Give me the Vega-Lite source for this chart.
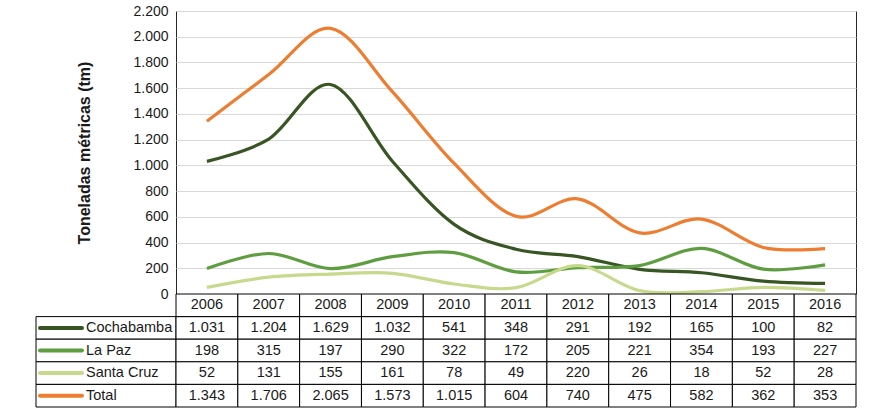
{
  "$schema": "https://vega.github.io/schema/vega-lite/v6.json",
  "padding": {"left": 32, "top": 3, "right": 5, "bottom": 3},
  "background": "white",
  "config": {
    "locale": {"number": {"decimal": ",", "thousands": ".", "grouping": [3], "currency": ["", " Bs"]}},
    "font": "Liberation Sans",
    "view": {"stroke": null}
  },
  "datasets": {
    "prod": [
      {"year": "2006", "series": "Cochabamba", "value": 1031},
      {"year": "2007", "series": "Cochabamba", "value": 1204},
      {"year": "2008", "series": "Cochabamba", "value": 1629},
      {"year": "2009", "series": "Cochabamba", "value": 1032},
      {"year": "2010", "series": "Cochabamba", "value": 541},
      {"year": "2011", "series": "Cochabamba", "value": 348},
      {"year": "2012", "series": "Cochabamba", "value": 291},
      {"year": "2013", "series": "Cochabamba", "value": 192},
      {"year": "2014", "series": "Cochabamba", "value": 165},
      {"year": "2015", "series": "Cochabamba", "value": 100},
      {"year": "2016", "series": "Cochabamba", "value": 82},
      {"year": "2006", "series": "La Paz", "value": 198},
      {"year": "2007", "series": "La Paz", "value": 315},
      {"year": "2008", "series": "La Paz", "value": 197},
      {"year": "2009", "series": "La Paz", "value": 290},
      {"year": "2010", "series": "La Paz", "value": 322},
      {"year": "2011", "series": "La Paz", "value": 172},
      {"year": "2012", "series": "La Paz", "value": 205},
      {"year": "2013", "series": "La Paz", "value": 221},
      {"year": "2014", "series": "La Paz", "value": 354},
      {"year": "2015", "series": "La Paz", "value": 193},
      {"year": "2016", "series": "La Paz", "value": 227},
      {"year": "2006", "series": "Santa Cruz", "value": 52},
      {"year": "2007", "series": "Santa Cruz", "value": 131},
      {"year": "2008", "series": "Santa Cruz", "value": 155},
      {"year": "2009", "series": "Santa Cruz", "value": 161},
      {"year": "2010", "series": "Santa Cruz", "value": 78},
      {"year": "2011", "series": "Santa Cruz", "value": 49},
      {"year": "2012", "series": "Santa Cruz", "value": 220},
      {"year": "2013", "series": "Santa Cruz", "value": 26},
      {"year": "2014", "series": "Santa Cruz", "value": 18},
      {"year": "2015", "series": "Santa Cruz", "value": 52},
      {"year": "2016", "series": "Santa Cruz", "value": 28},
      {"year": "2006", "series": "Total", "value": 1343},
      {"year": "2007", "series": "Total", "value": 1706},
      {"year": "2008", "series": "Total", "value": 2065},
      {"year": "2009", "series": "Total", "value": 1573},
      {"year": "2010", "series": "Total", "value": 1015},
      {"year": "2011", "series": "Total", "value": 604},
      {"year": "2012", "series": "Total", "value": 740},
      {"year": "2013", "series": "Total", "value": 475},
      {"year": "2014", "series": "Total", "value": 582},
      {"year": "2015", "series": "Total", "value": 362},
      {"year": "2016", "series": "Total", "value": 353}
    ],
    "series": [
      {"series": "Cochabamba"},
      {"series": "La Paz"},
      {"series": "Santa Cruz"},
      {"series": "Total"}
    ]
  },
  "columns": 2,
  "align": "each",
  "bounds": "flush",
  "spacing": 0,
  "concat": [
    {
      "width": 140,
      "height": 283,
      "data": {"name": "series"},
      "mark": {"type": "point", "opacity": 0},
      "encoding": {}
    },
    {
      "width": 680,
      "height": 283,
      "view": {"stroke": "#262626", "strokeWidth": 1},
      "data": {"name": "prod"},
      "mark": {"type": "line", "interpolate": "cardinal", "strokeWidth": 3.2},
      "encoding": {
        "x": {"field": "year", "type": "ordinal", "scale": {"type": "point", "padding": 0.5}, "axis": null},
        "y": {
          "field": "value",
          "type": "quantitative",
          "scale": {"domain": [0, 2200], "nice": false},
          "axis": {
            "values": [0, 200, 400, 600, 800, 1000, 1200, 1400, 1600, 1800, 2000, 2200],
            "format": ",d",
            "title": "Toneladas métricas (tm)",
            "titleFontSize": 16,
            "titleFontWeight": "bold",
            "titleColor": "#1a1a1a",
            "titlePadding": 40,
            "labelFontSize": 14,
            "labelColor": "#1a1a1a",
            "labelPadding": 8,
            "domain": false,
            "ticks": false,
            "gridColor": "#d9d9d9",
            "gridWidth": 1
          }
        },
        "color": {
          "field": "series",
          "type": "nominal",
          "scale": {"domain": ["Cochabamba", "La Paz", "Santa Cruz", "Total"], "range": ["#375623", "#5e9e40", "#c6d98c", "#ed7d31"]},
          "legend": null
        }
      }
    },
    {
      "width": 140,
      "height": 113,
      "data": {"name": "series"},
      "encoding": {
        "y": {
          "field": "series",
          "type": "nominal",
          "scale": {"type": "band", "domain": ["hdr", "Cochabamba", "La Paz", "Santa Cruz", "Total"], "paddingInner": 0, "paddingOuter": 0},
          "axis": null
        }
      },
      "layer": [
        {"mark": {"type": "rect", "fill": "white", "stroke": "#000000", "strokeWidth": 1}},
        {
          "mark": {"type": "point", "shape": "stroke", "size": 1764, "strokeWidth": 4, "filled": false, "opacity": 1, "strokeCap": "round"},
          "encoding": {
            "x": {"datum": "swatch", "type": "nominal", "scale": {"type": "band", "domain": ["swatch", "name"], "range": [0, 100], "paddingInner": 0, "paddingOuter": 0}, "axis": null},
            "color": {
              "field": "series",
              "type": "nominal",
              "scale": {"domain": ["Cochabamba", "La Paz", "Santa Cruz", "Total"], "range": ["#375623", "#5e9e40", "#c6d98c", "#ed7d31"]},
              "legend": null
            }
          }
        },
        {
          "mark": {"type": "text", "align": "left", "fontSize": 14.5, "color": "#1a1a1a"},
          "encoding": {
            "x": {"datum": "name", "type": "nominal", "bandPosition": 0},
            "text": {"field": "series", "type": "nominal"}
          }
        }
      ]
    },
    {
      "width": 680,
      "height": 113,
      "data": {"name": "prod"},
      "encoding": {
        "x": {"field": "year", "type": "ordinal", "scale": {"type": "band", "paddingInner": 0, "paddingOuter": 0}, "axis": null},
        "y": {
          "field": "series",
          "type": "nominal",
          "scale": {"type": "band", "domain": ["hdr", "Cochabamba", "La Paz", "Santa Cruz", "Total"], "paddingInner": 0, "paddingOuter": 0},
          "axis": null
        }
      },
      "layer": [
        {"mark": {"type": "rect", "fill": "white", "stroke": "#000000", "strokeWidth": 1}},
        {
          "mark": {"type": "text", "fontSize": 14.5, "color": "#1a1a1a"},
          "encoding": {"text": {"field": "value", "type": "quantitative", "format": ",d"}}
        },
        {
          "transform": [{"filter": "datum.series === 'Total'"}],
          "mark": {"type": "rect", "fill": "white", "stroke": "#000000", "strokeWidth": 1},
          "encoding": {"y": {"datum": "hdr", "type": "nominal"}}
        },
        {
          "transform": [{"filter": "datum.series === 'Total'"}],
          "mark": {"type": "text", "fontSize": 14.5, "color": "#1a1a1a"},
          "encoding": {"y": {"datum": "hdr", "type": "nominal"}, "text": {"field": "year", "type": "nominal"}}
        }
      ]
    }
  ]
}
